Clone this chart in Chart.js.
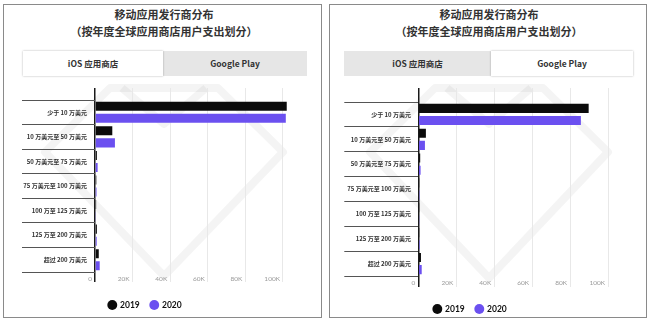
<!DOCTYPE html>
<html><head><meta charset="utf-8">
<script src="https://cdn.jsdelivr.net/npm/chart.js@4/dist/chart.umd.min.js"></script>
<style>
html,body{margin:0;padding:0;width:650px;height:322px;overflow:hidden;background:#fff;font-family:"Noto Sans CJK SC",sans-serif;}
.panel{position:absolute;top:4px;height:314px;border:1.5px solid #8a8a8a;box-sizing:border-box;}
.title{position:absolute;top:6px;width:300px;text-align:center;font-size:11px;line-height:17px;font-weight:bold;color:#333;}
.tab{position:absolute;top:51px;height:25px;line-height:25px;text-align:center;font-size:8.5px;font-weight:bold;color:#333;}
.on{background:#fff;box-shadow:0 0 2px rgba(0,0,0,0.3);z-index:2;}
.off{background:#e6e6e6;}
canvas{position:absolute;top:80px;z-index:3;}
svg{position:absolute;left:0;top:0;z-index:1;}
</style></head>
<body>
<div class="panel" style="left:3px;width:319px;"></div>
<div class="panel" style="left:329px;width:318px;"></div>
<svg width="650" height="322"><g fill="none" stroke="rgba(0,0,0,0.045)" stroke-width="8" stroke-linejoin="round">
<polygon points="110,88 218,88 283,152 164,276 45,152"/><polyline points="122,88 164,124 206,88"/>
<polygon points="435,88 543,88 608,152 489,278 370,152"/><polyline points="447,88 489,124 531,88"/>
</g></svg>
<div class="title" style="left:14px;">移动应用发行商分布<br>（按年度全球应用商店用户支出划分）</div>
<div class="title" style="left:339px;">移动应用发行商分布<br>（按年度全球应用商店用户支出划分）</div>
<div class="tab on" style="left:23px;width:140px;">iOS 应用商店</div>
<div class="tab off" style="left:163px;width:144px;">Google Play</div>
<div class="tab off" style="left:344px;width:147px;">iOS 应用商店</div>
<div class="tab on" style="left:491px;width:142px;">Google Play</div>
<canvas id="c1" width="325" height="256" style="left:0px;"></canvas>
<canvas id="c2" width="322" height="258" style="left:325px;"></canvas>
<script>
const categories = ['少于 10 万美元','10 万美元至 50 万美元','50 万美元至 75 万美元','75 万美元至 100 万美元','100 万至 125 万美元','125 万至 200 万美元','超过 200 万美元'];
const years = ['2019','2020'];
const iosValues2019 = [102000, 9200, 1000, 700, 600, 1000, 2000];
const iosValues2020 = [101500, 10600, 1400, 800, 500, 900, 2500];
const gpValues2019 = [89800, 4000, 1000, 500, 500, 500, 1400];
const gpValues2020 = [85700, 3500, 1200, 600, 500, 700, 1800];
const tickValues = [0, 20000, 40000, 60000, 80000, 100000];
const tickLabels = ['0', '20K', '40K', '60K', '80K', '100K'];
const seriesColors = ['#0b0b0b', '#6b50f0'];
const xMax = 104000;

function makeChart(id, d2019, d2020, g) {
  const gridColor = c => (c.tick && c.tick.value === 0) ? '#1a1a1a' : '#e8e8e8';
  const gridWidth = c => (c.tick && c.tick.value === 0) ? 1.5 : 1;
  const setTicks = s => { s.ticks = tickValues.map(v => ({value: v})); };
  new Chart(document.getElementById(id), {
    type: 'bar',
    data: {
      labels: categories,
      datasets: [
        {label: years[0], data: d2019, backgroundColor: seriesColors[0], xAxisID: 'x', yAxisID: 'y'},
        {label: years[1], data: d2020, backgroundColor: seriesColors[1], xAxisID: 'x', yAxisID: 'y'}
      ]
    },
    options: {
      indexAxis: 'y', responsive: false, animation: false,
      categoryPercentage: 0.98, barPercentage: 0.75,
      layout: {padding: {top: g.padTop, bottom: g.padBottom, left: 0, right: g.padRight}},
      plugins: {
        tooltip: {enabled: false},
        legend: {position: 'bottom', labels: {usePointStyle: true, pointStyle: 'circle', boxWidth: 7, boxHeight: 7, padding: 11, color: '#111', font: {family: 'Lato', weight: 'bold', size: 8.5}}}
      },
      scales: {
        x: {type: 'linear', position: 'bottom', min: 0, max: xMax, afterBuildTicks: setTicks,
            grid: {color: gridColor, lineWidth: gridWidth, tickLength: g.tickBottom},
            border: {display: false},
            ticks: {align: 'end', labelOffset: -3, padding: g.xPad, color: '#9a9a9a', maxRotation: 0, autoSkip: false,
                    font: {family: 'Lato', size: 6.5}, callback: (v, i) => tickLabels[i]},
            afterFit: s => { s.height = g.xH; }},
        x2: {type: 'linear', position: 'top', min: 0, max: xMax, afterBuildTicks: setTicks,
            grid: {color: gridColor, lineWidth: gridWidth, tickLength: g.tickTop, drawOnChartArea: false},
            border: {display: false}, ticks: {display: false},
            afterFit: s => { s.height = g.tickTop; }},
        y: {type: 'category',
            grid: {drawOnChartArea: false, tickLength: g.sepLen, color: '#555', offset: true},
            border: {display: false},
            ticks: {padding: g.yPad, color: '#333', autoSkip: false, font: {family: 'Noto Sans CJK SC', size: 6, weight: 'bold'}},
            afterFit: s => { s.width = g.yW; }}
      }
    }
  });
}

makeChart('c1', iosValues2019, iosValues2020, {padTop: 8, tickTop: 12, padBottom: 16.75, padRight: 34.5, xH: 17.75, tickBottom: 10, xPad: -6.9, yW: 95, sepLen: 73, yPad: -65});
makeChart('c2', gpValues2019, gpValues2020, {padTop: 8, tickTop: 14, padBottom: 14.75, padRight: 31.4, xH: 17.75, tickBottom: 11, xPad: -7.9, yW: 93.3, sepLen: 74, yPad: -66.7});
</script>
</body></html>
